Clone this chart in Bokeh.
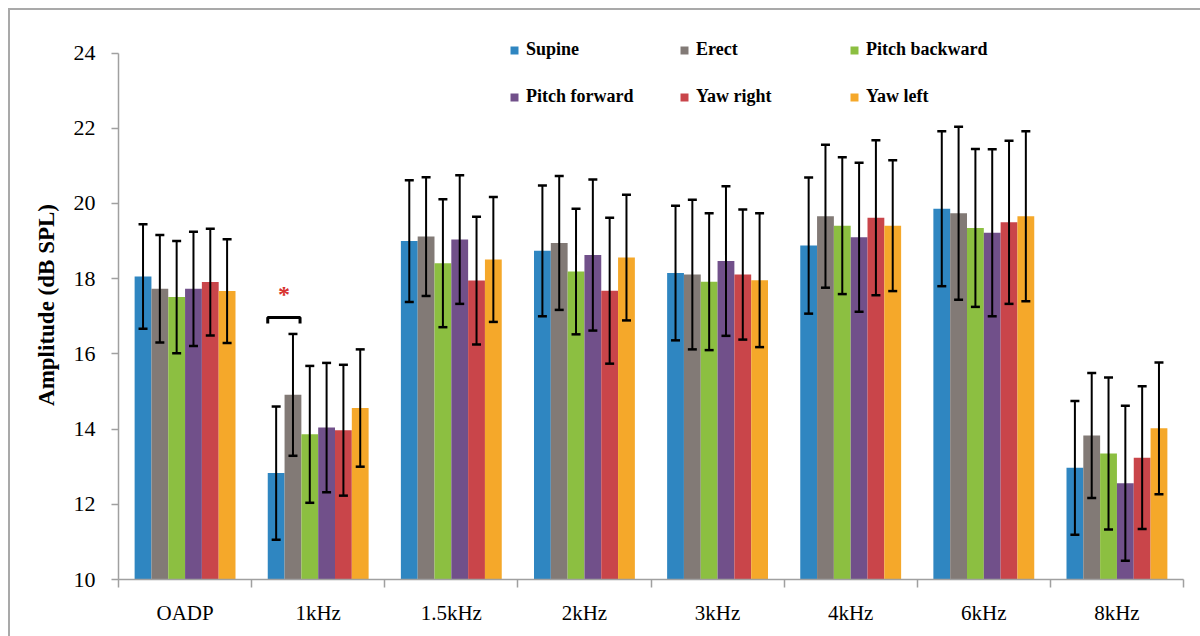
from bokeh.plotting import figure
from bokeh.layouts import column, row
from bokeh.models import (ColumnDataSource, Whisker, TeeHead, Legend, LegendItem,
                          FixedTicker, Range1d, Div)
from bokeh.embed import file_html
from bokeh.resources import INLINE
from bokeh.core.properties import value

categories = ["OADP", "1kHz", "1.5kHz", "2kHz", "3kHz", "4kHz", "6kHz", "8kHz"]
series = ["Supine", "Erect", "Pitch backward", "Pitch forward", "Yaw right", "Yaw left"]
colors = ["#2f86c1", "#827a76", "#8cbf41", "#71508a", "#c9454a", "#f5a82a"]

supine_mean = [18.06, 12.83, 19.00, 18.74, 18.15, 18.88, 19.86, 12.97]
supine_sd = [1.39, 1.77, 1.62, 1.74, 1.79, 1.81, 2.06, 1.78]
erect_mean = [17.73, 14.91, 19.12, 18.95, 18.11, 19.66, 19.74, 13.83]
erect_sd = [1.43, 1.62, 1.58, 1.78, 1.99, 1.90, 2.30, 1.66]
pitch_backward_mean = [17.51, 13.86, 18.41, 18.19, 17.92, 19.41, 19.35, 13.35]
pitch_backward_sd = [1.49, 1.82, 1.70, 1.67, 1.82, 1.82, 2.10, 2.02]
pitch_forward_mean = [17.73, 14.04, 19.04, 18.63, 18.47, 19.10, 19.22, 12.56]
pitch_forward_sd = [1.52, 1.72, 1.71, 2.01, 1.99, 1.98, 2.22, 2.06]
yaw_right_mean = [17.91, 13.97, 17.95, 17.68, 18.11, 19.62, 19.50, 13.24]
yaw_right_sd = [1.42, 1.74, 1.70, 1.94, 1.73, 2.06, 2.17, 1.90]
yaw_left_mean = [17.67, 14.56, 18.51, 18.56, 17.96, 19.41, 19.66, 14.02]
yaw_left_sd = [1.38, 1.56, 1.66, 1.67, 1.78, 1.74, 2.26, 1.75]

y_ticks = [10, 12, 14, 16, 18, 20, 22, 24]

# significance marker (1kHz: Supine vs Erect)
sig_category = "1kHz"
sig_pair = ("Supine", "Erect")
sig_bracket_top = 16.97
sig_bracket_bottom = 16.81
sig_star_y = 17.6

# legend is laid out column by column: 3 columns x 2 rows
legend_order = ["Supine", "Pitch forward", "Erect", "Yaw right", "Pitch backward", "Yaw left"]

means = [supine_mean, erect_mean, pitch_backward_mean, pitch_forward_mean,
         yaw_right_mean, yaw_left_mean]
sds = [supine_sd, erect_sd, pitch_backward_sd, pitch_forward_sd,
       yaw_right_sd, yaw_left_sd]

BAR_W = 0.1263
SERIF = "Liberation Serif"
FRAME_GRAY = "#a9a9a9"

p = figure(width=1190, height=626, output_backend="svg", toolbar_location=None,
           x_range=Range1d(0, len(categories)), y_range=Range1d(10, 24.6),
           min_border_left=108, min_border_right=17, min_border_top=20,
           min_border_bottom=57)
p.outline_line_color = None
p.xgrid.visible = False
p.ygrid.visible = False

renderers = {}
for i, (name, col, m, s) in enumerate(zip(series, colors, means, sds)):
    off = (i - (len(series) - 1) / 2) * BAR_W
    xs = [k + 0.5 + off for k in range(len(categories))]
    src = ColumnDataSource(dict(x=xs, top=m,
                                upper=[a + b for a, b in zip(m, s)],
                                lower=[a - b for a, b in zip(m, s)]))
    r = p.vbar(x="x", top="top", bottom=10, width=BAR_W, source=src,
               fill_color=col, line_color=None)
    w = Whisker(base="x", upper="upper", lower="lower", source=src,
                line_color="black", line_width=2, level="overlay",
                upper_head=TeeHead(size=9, line_width=2.5, line_color="black"),
                lower_head=TeeHead(size=9, line_width=2.5, line_color="black"))
    p.add_layout(w)
    renderers[name] = r

# significance bracket and asterisk
ci = categories.index(sig_category)
i0 = series.index(sig_pair[0])
i1 = series.index(sig_pair[1])
x0 = ci + 0.5 + (i0 - 2.5) * BAR_W - BAR_W / 2
x1 = ci + 0.5 + (i1 - 2.5) * BAR_W + BAR_W / 2 - 0.01
p.line([x0, x0, x1, x1], [sig_bracket_bottom, sig_bracket_top, sig_bracket_top, sig_bracket_bottom],
       line_color="black", line_width=3)
p.text(x=[(x0 + x1) / 2], y=[sig_star_y], text=["*"], text_color="#d8322f",
       text_font=value(SERIF), text_font_style="bold", text_font_size="24px",
       text_align="center", text_baseline="middle")

# axes
xa = p.xaxis[0]
xa.ticker = FixedTicker(ticks=[k + 0.5 for k in range(len(categories))],
                        minor_ticks=list(range(len(categories) + 1)))
xa.major_label_overrides = {k + 0.5: c for k, c in enumerate(categories)}
xa.major_tick_out = 0
xa.major_tick_in = 0
xa.minor_tick_out = 8
xa.minor_tick_in = 0
xa.minor_tick_line_color = "#a0a0a0"
xa.minor_tick_line_width = 1.5
xa.axis_line_color = "#a0a0a0"
xa.axis_line_width = 1.5
xa.major_label_text_font = SERIF
xa.major_label_text_font_size = "21px"
xa.major_label_text_color = "black"
xa.major_label_standoff = 13

ya = p.yaxis[0]
ya.ticker = FixedTicker(ticks=y_ticks, minor_ticks=[])
ya.bounds = (10, 24)
ya.major_tick_out = 7
ya.major_tick_in = 0
ya.major_tick_line_color = "#a0a0a0"
ya.major_tick_line_width = 1.5
ya.axis_line_color = "#a0a0a0"
ya.axis_line_width = 1.5
ya.major_label_text_font = SERIF
ya.major_label_text_font_size = "22px"
ya.major_label_text_color = "black"
ya.major_label_standoff = 16
ya.axis_label = "Amplitude (dB SPL)"
ya.axis_label_text_font = SERIF
ya.axis_label_text_font_size = "23px"
ya.axis_label_text_font_style = "bold"
ya.axis_label_text_color = "black"
ya.axis_label_standoff = 12

legend_items = [LegendItem(label=n, renderers=[renderers[n]]) for n in legend_order]
legend = Legend(items=legend_items, ncols=3, location=(391, 472),
                padding=0, margin=0, border_line_color=None,
                background_fill_alpha=0, glyph_width=10, glyph_height=10,
                label_standoff=7, label_width=127, spacing=26,
                label_text_font=SERIF, label_text_font_style="bold",
                label_text_font_size="18px", label_text_color="black")
p.add_layout(legend, "center")

# thin grey frame on the top and left edges of the figure
top_edge = Div(text="", width=1192, height=2, margin=0,
               styles={"background-color": FRAME_GRAY, "overflow": "hidden"})
left_edge = Div(text="", width=2, height=626, margin=0,
                styles={"background-color": FRAME_GRAY, "overflow": "hidden"})
root = column(top_edge, row(left_edge, p, spacing=0), spacing=0,
              styles={"margin-left": "8px", "margin-top": "8px"})

open("out.html", "w").write(file_html(root, INLINE))
